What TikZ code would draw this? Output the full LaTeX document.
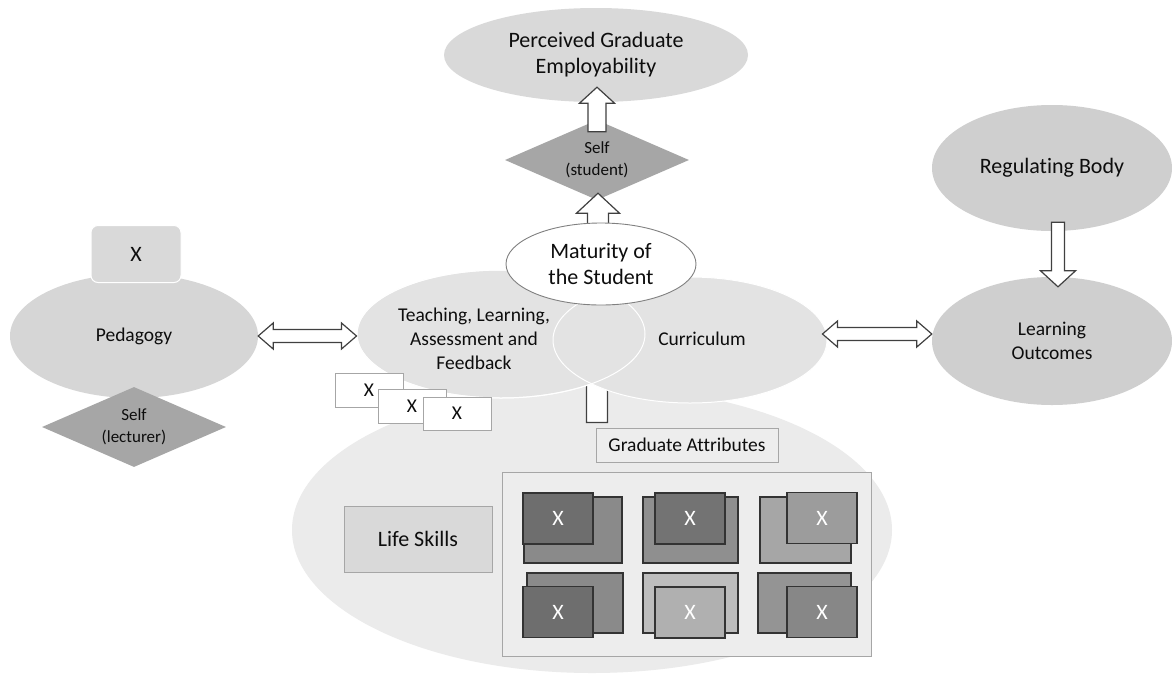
\documentclass[tikz,border=0pt]{standalone}
\usepackage{fontspec}
\setmainfont{Carlito}[Ligatures=NoCommon]
\usepackage{tikz}
\usetikzlibrary{shapes.geometric,calc}

\newcommand{\blockup}[5]{%
  \draw[blockarrow] let \p1=(#1), \p2=(#2), \p3=($(#2)!#5!(#1)$) in
    (\x2-#3,\y1) -- (\x2-#3,\y3) -- (\x2-#4,\y3) -- (\x2,\y2)
    -- (\x2+#4,\y3) -- (\x2+#3,\y3) -- (\x2+#3,\y1) -- cycle;}
\newcommand{\blockboth}[2]{%
  \draw[blockarrow] let \p1=(#1), \p2=(#2) in
    (\x1,\y1) -- (\x1+15pt,\y1+13pt) -- (\x1+15pt,\y1+6.5pt)
    -- (\x2-15pt,\y1+6.5pt) -- (\x2-15pt,\y1+13pt) -- (\x2,\y1)
    -- (\x2-15pt,\y1-13pt) -- (\x2-15pt,\y1-6.5pt)
    -- (\x1+15pt,\y1-6.5pt) -- (\x1+15pt,\y1-13pt) -- cycle;}

\begin{document}
\begin{tikzpicture}[x=1pt, y=-1pt,
    every node/.style={text=black!95, align=center, inner sep=0pt},
    bigtext/.style={font=\fontsize{22}{26}\selectfont},
    midtext/.style={font=\fontsize{19.5}{24}\selectfont},
    smalltext/.style={font=\fontsize{17}{22}\selectfont},
    blob/.style={ellipse, inner sep=0pt},
    selfdiamond/.style={diamond, aspect=2.3, fill=black!35, minimum width=184pt, minimum height=80pt, smalltext},
    blockarrow/.style={draw=black!75, fill=white, line width=1.2pt, line join=miter},
    greybox/.style={draw=black!35, line width=0.9pt},
    xcard/.style={greybox, fill=white, minimum width=68pt, minimum height=34pt, midtext},
    tileline/.style={draw=black!80, line width=1.1pt},
    tile/.style={tileline, minimum width=70pt, minimum height=51pt, text=white, bigtext}]
  \fill[white] (0,0) rectangle (1172,675);
  \useasboundingbox (0,0) rectangle (1172,675);

  \node[blob, fill=black!8, minimum width=600pt, minimum height=286pt] (base) at (592,530) {};
  \node[greybox, fill=black!7, minimum width=369pt, minimum height=184pt] (gbox) at (686.5,564) {};
  \foreach \xa/\ya/\xb/\yb/\bk/\fx/\fy/\fk [count=\i] in {
      524/497/622/563/46/558/518.5/57, 643/497/738/563/44/690/518.5/55,
      760/497/851/563/35/822/518/39, 527/573/623/633/46/558/612/57,
      643/573/738/633/26/690/612.5/31, 758/573/851/633/42/822/612/47} {
    \draw[tileline, fill=black!\bk] (\xa,\ya) rectangle (\xb,\yb);
    \node[tile, fill=black!\fk] (ga\i) at (\fx,\fy) {X};
  }
  \node[greybox, fill=black!7, minimum width=182pt, minimum height=34pt, midtext] (gattr) at (687,445) {Graduate Attributes};
  \node[greybox, fill=black!15, minimum width=148pt, minimum height=66pt, bigtext] (life) at (418,539) {Life Skills};

  \blockup{$(gattr.north west)+(1.5,-5)$}{$(gattr.north west)+(1.5,-95)$}{10.5pt}{21.5pt}{20pt}

  \node[blob, fill=black!11, draw=white, line width=1pt, minimum width=288pt, minimum height=128pt] (teach) at (501,334) {};
  \node[blob, fill=black!11, draw=white, line width=1pt, minimum width=274pt, minimum height=126pt] (curr) at (690,340) {};
  \draw[white, line width=1pt] (teach.center) ellipse [x radius=144, y radius=64];
  \node[midtext] (teachtxt) at (474,339) {Teaching, Learning,\\Assessment and\\Feedback};
  \node[midtext] (currtxt) at (702,339) {Curriculum};

  \node[selfdiamond] (selfst) at (597,160) {Self\\(student)};
  \node[blob, fill=black!15, minimum width=304pt, minimum height=94pt, bigtext] (perc) at (596,55) {Perceived Graduate\\Employability};
  \blockup{$(selfst.north)+(0,12)$}{$(perc.south)+(1,-15)$}{9pt}{17.5pt}{16pt}
  \blockup{$(selfst.south)+(1,30)$}{$(selfst.south)+(1,-7)$}{10.5pt}{21.5pt}{20pt}
  \node[blob, fill=white, draw=black!50, line width=0.9pt, minimum width=190pt, minimum height=82pt, bigtext] (mat) at (601,264) {Maturity of\\the Student};

  \node[blob, fill=black!16, minimum width=248pt, minimum height=124pt, midtext] (ped) at (134,336) {Pedagogy};
  \node[draw=white, line width=1pt, fill=black!15, rounded corners=7pt, minimum width=90pt, minimum height=57pt, bigtext] (pedx) at (136,254) {X};
  \node[selfdiamond] (selflec) at (134,427) {Self\\(lecturer)};
  \blockboth{ped.east}{teach.west}

  \node[xcard] (card1) at (369,390) {X};
  \node[xcard] (card2) at (412,406) {X};
  \node[xcard, minimum height=33pt] (card3) at (457,413.5) {X};

  \node[blob, fill=black!19, minimum width=240pt, minimum height=126pt, bigtext] (reg) at (1052,168) {Regulating Body};
  \node[blob, fill=black!19, minimum width=240pt, minimum height=128pt, midtext] (lo) at (1052,341) {Learning\\Outcomes};
  \blockup{$(reg.south)+(6,-9)$}{$(lo.north)+(6,10)$}{6.5pt}{17.5pt}{16pt}
  \blockboth{$(curr.east)+(-5,-6)$}{lo.west}
\end{tikzpicture}
\end{document}
